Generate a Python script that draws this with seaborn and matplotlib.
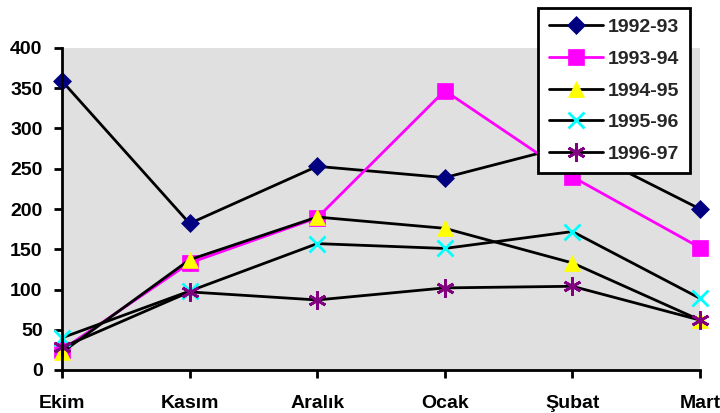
import pandas as pd
import matplotlib.pyplot as plt
import seaborn as sns

months = ['Ekim', 'Kasım', 'Aralık', 'Ocak', 'Şubat', 'Mart']
s1992 = [359, 182, 253, 239, 280, 200]
s1993 = [25, 133, 189, 347, 240, 152]
s1994 = [22, 137, 190, 176, 133, 62]
s1995 = [40, 98, 157, 151, 172, 89]
s1996 = [28, 97, 87, 102, 104, 62]
seasons = ['1992-93', '1993-94', '1994-95', '1995-96', '1996-97']

df = pd.DataFrame({'Ay': months, '1992-93': s1992, '1993-94': s1993,
                   '1994-95': s1994, '1995-96': s1995, '1996-97': s1996})
long_df = df.melt(id_vars='Ay', var_name='Sezon', value_name='Deger')

sns.set_style('white')
plt.rcParams['font.family'] = ['Liberation Sans', 'DejaVu Sans']
plt.rcParams['font.weight'] = 'bold'

# line colour, marker, marker colour, marker size
styles = {
    '1992-93': ('black', 'D', '#000080', 9),
    '1993-94': ('#ff00ff', 's', '#ff00ff', 11),
    '1994-95': ('black', '^', '#ffff00', 12),
    '1995-96': ('black', 'x', '#00ffff', 11),
    '1996-97': ('black', (6, 2, 0), '#800080', 13),
}

fig = plt.figure(figsize=(7.2, 4.13), dpi=100)
ax = fig.add_axes([62 / 720, 1 - 370 / 413, 638 / 720, 322 / 413])
ax.set_facecolor('#e0e0e0')

for s in seasons:
    lc, mk, mc, ms = styles[s]
    sub = long_df[long_df['Sezon'] == s]
    sns.lineplot(data=sub, x='Ay', y='Deger', ax=ax, color=lc, linewidth=2,
                 marker=mk, markersize=ms, markerfacecolor=mc,
                 markeredgecolor=mc, markeredgewidth=2 if mk in ('x', (6, 2, 0)) else 0.5,
                 label=s, sort=False, clip_on=False)

ax.set_xlim(0, 5)
ax.set_ylim(0, 400)
ax.set_yticks(range(0, 401, 50))
ax.set_xlabel('')
ax.set_ylabel('')
for sp in ['top', 'right']:
    ax.spines[sp].set_visible(False)
for sp in ['left', 'bottom']:
    ax.spines[sp].set_color('black')
    ax.spines[sp].set_linewidth(2)
ax.tick_params(axis='both', direction='out', length=6, width=2, colors='black',
               labelsize=14, left=True, bottom=True)
ax.tick_params(axis='x', pad=12)
ax.tick_params(axis='y', pad=8)
for lab in ax.get_xticklabels() + ax.get_yticklabels():
    lab.set_fontweight('bold')

leg = ax.legend(loc='upper left', bbox_to_anchor=(538 / 720, 1 - 8 / 413),
                bbox_transform=fig.transFigure, frameon=True, fancybox=False,
                fontsize=14, handlelength=2.8, labelspacing=0.72,
                borderpad=0.55, handletextpad=0.25, borderaxespad=0)
leg.get_frame().set_edgecolor('black')
leg.get_frame().set_linewidth(2)
leg.get_frame().set_alpha(1)
leg.set_zorder(10)

fig.savefig('out.png', dpi=100)
